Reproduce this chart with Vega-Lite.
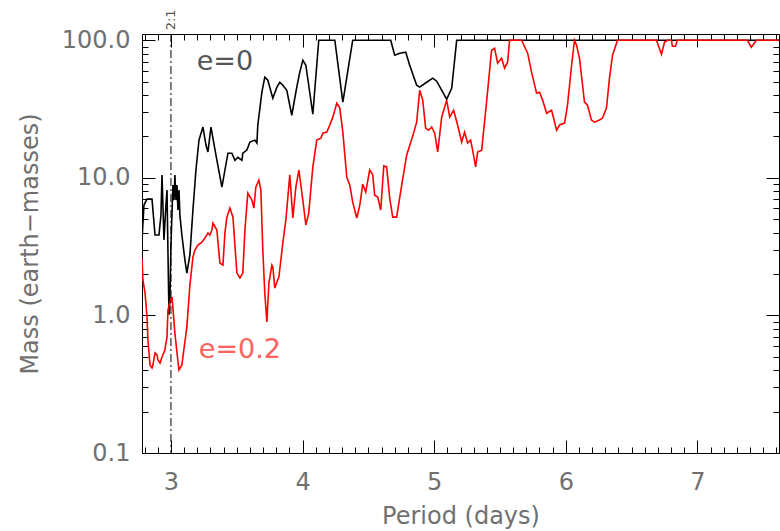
{
  "$schema": "https://vega.github.io/schema/vega-lite/v6.json",
  "width": 637,
  "height": 419,
  "autosize": {"type": "none"},
  "padding": {"left": 142, "top": 34, "right": 1, "bottom": 78},
  "background": "white",
  "config": {"view": {"stroke": null}, "font": "DejaVu Sans"},
  "datasets": {
    "e0": [
      {"P":2.780,"M":3.53},{"P":2.795,"M":6.34},{"P":2.818,"M":7.00},{"P":2.856,"M":7.00},{"P":2.879,"M":3.84},
      {"P":2.909,"M":3.84},{"P":2.924,"M":5.36},{"P":2.932,"M":10.5},{"P":2.947,"M":3.53},{"P":2.962,"M":6.34},
      {"P":2.970,"M":8.14},{"P":2.977,"M":2.98},{"P":2.985,"M":1.01},{"P":2.992,"M":1.29},{"P":3.000,"M":3.25},
      {"P":3.015,"M":8.85},{"P":3.023,"M":6.89},{"P":3.030,"M":10.5},{"P":3.038,"M":6.89},{"P":3.046,"M":8.85},
      {"P":3.053,"M":5.83},{"P":3.061,"M":8.14},{"P":3.068,"M":5.36},{"P":3.083,"M":3.84},{"P":3.106,"M":2.53},
      {"P":3.121,"M":2.03},{"P":3.144,"M":2.75},{"P":3.167,"M":5.83},{"P":3.190,"M":11.4},{"P":3.213,"M":18.8},
      {"P":3.243,"M":23.4},{"P":3.266,"M":17.3},{"P":3.281,"M":15.4},{"P":3.304,"M":23.4},{"P":3.342,"M":14.6},
      {"P":3.387,"M":8.55},{"P":3.433,"M":15.1},{"P":3.463,"M":15.1},{"P":3.486,"M":13.4},{"P":3.509,"M":14.1},
      {"P":3.539,"M":13.4},{"P":3.546,"M":15.1},{"P":3.577,"M":15.9},{"P":3.600,"M":18.2},{"P":3.638,"M":18.8},
      {"P":3.653,"M":17.9},{"P":3.660,"M":24.2},{"P":3.691,"M":41.9},{"P":3.713,"M":53.9},{"P":3.736,"M":51.2},
      {"P":3.774,"M":37.9},{"P":3.805,"M":45.6},{"P":3.827,"M":49.5},{"P":3.850,"M":47.1},{"P":3.880,"M":43.3},
      {"P":3.918,"M":28.5},{"P":3.956,"M":45.6},{"P":3.979,"M":58.6},{"P":4.002,"M":71.6},{"P":4.025,"M":65.8},
      {"P":4.078,"M":29.0},{"P":4.123,"M":100},{"P":4.245,"M":100},{"P":4.306,"M":35.5},{"P":4.381,"M":100},
      {"P":4.670,"M":100},{"P":4.700,"M":77.8},{"P":4.738,"M":80.5},{"P":4.784,"M":81.8},{"P":4.814,"M":65.8},
      {"P":4.867,"M":47.1},{"P":4.890,"M":45.6},{"P":4.943,"M":49.5},{"P":4.989,"M":53.0},{"P":5.019,"M":50.4},
      {"P":5.095,"M":37.3},{"P":5.133,"M":44.8},{"P":5.171,"M":100},{"P":7.622,"M":100}
    ],
    "e02": [
      {"P":2.780,"M":2.61},{"P":2.787,"M":1.81},{"P":2.803,"M":1.45},{"P":2.818,"M":0.973},{"P":2.825,"M":0.663},
      {"P":2.841,"M":0.436},{"P":2.856,"M":0.415},{"P":2.863,"M":0.436},{"P":2.879,"M":0.533},{"P":2.894,"M":0.516},
      {"P":2.901,"M":0.474},{"P":2.917,"M":0.451},{"P":2.932,"M":0.499},{"P":2.954,"M":0.561},{"P":2.970,"M":0.697},
      {"P":2.977,"M":1.09},{"P":2.992,"M":1.25},{"P":3.008,"M":1.36},{"P":3.015,"M":1.13},{"P":3.030,"M":0.745},
      {"P":3.046,"M":0.533},{"P":3.061,"M":0.401},{"P":3.083,"M":0.436},{"P":3.091,"M":0.499},{"P":3.121,"M":0.824},
      {"P":3.144,"M":1.66},{"P":3.167,"M":2.65},{"P":3.182,"M":2.98},{"P":3.205,"M":3.25},{"P":3.235,"M":3.41},
      {"P":3.258,"M":3.65},{"P":3.281,"M":3.97},{"P":3.296,"M":3.84},{"P":3.311,"M":4.17},{"P":3.319,"M":4.69},
      {"P":3.349,"M":4.17},{"P":3.372,"M":2.40},{"P":3.395,"M":2.32},{"P":3.410,"M":3.97},{"P":3.425,"M":5.18},
      {"P":3.448,"M":6.03},{"P":3.471,"M":5.18},{"P":3.501,"M":2.03},{"P":3.524,"M":1.87},{"P":3.546,"M":2.03},
      {"P":3.562,"M":4.17},{"P":3.584,"M":7.74},{"P":3.615,"M":6.89},{"P":3.630,"M":6.03},{"P":3.645,"M":8.55},
      {"P":3.668,"M":9.62},{"P":3.683,"M":8.14},{"P":3.698,"M":2.98},{"P":3.713,"M":1.45},{"P":3.729,"M":0.895},
      {"P":3.744,"M":1.72},{"P":3.767,"M":2.32},{"P":3.774,"M":2.25},{"P":3.789,"M":1.58},{"P":3.805,"M":1.75},
      {"P":3.820,"M":1.90},{"P":3.850,"M":3.36},{"P":3.873,"M":4.93},{"P":3.903,"M":10.5},{"P":3.926,"M":5.10},
      {"P":3.949,"M":8.55},{"P":3.972,"M":11.4},{"P":4.002,"M":6.89},{"P":4.025,"M":4.54},{"P":4.047,"M":5.54},
      {"P":4.078,"M":12.0},{"P":4.108,"M":18.8},{"P":4.139,"M":19.4},{"P":4.154,"M":21.1},{"P":4.184,"M":21.5},
      {"P":4.207,"M":24.2},{"P":4.230,"M":27.6},{"P":4.260,"M":34.9},{"P":4.283,"M":32.1},{"P":4.306,"M":21.5},
      {"P":4.336,"M":10.1},{"P":4.359,"M":8.85},{"P":4.381,"M":6.66},{"P":4.412,"M":5.10},{"P":4.435,"M":6.34},
      {"P":4.457,"M":8.99},{"P":4.480,"M":7.87},{"P":4.510,"M":11.4},{"P":4.533,"M":10.5},{"P":4.548,"M":7.48},
      {"P":4.571,"M":7.24},{"P":4.594,"M":5.83},{"P":4.617,"M":12.2},{"P":4.639,"M":12.0},{"P":4.662,"M":7.12},
      {"P":4.685,"M":5.18},{"P":4.715,"M":5.18},{"P":4.753,"M":8.85},{"P":4.791,"M":14.6},{"P":4.837,"M":20.1},
      {"P":4.867,"M":25.4},{"P":4.890,"M":43.3},{"P":4.913,"M":36.7},{"P":4.935,"M":23.0},{"P":4.958,"M":22.2},
      {"P":4.981,"M":23.4},{"P":5.004,"M":21.1},{"P":5.027,"M":15.4},{"P":5.057,"M":27.6},{"P":5.095,"M":36.7},
      {"P":5.118,"M":27.6},{"P":5.148,"M":31.0},{"P":5.178,"M":24.2},{"P":5.209,"M":18.2},{"P":5.231,"M":21.5},
      {"P":5.254,"M":17.9},{"P":5.277,"M":18.8},{"P":5.292,"M":15.9},{"P":5.315,"M":12.0},{"P":5.330,"M":15.4},
      {"P":5.361,"M":15.9},{"P":5.398,"M":35.5},{"P":5.436,"M":84.6},{"P":5.459,"M":87.5},{"P":5.482,"M":68.1},
      {"P":5.512,"M":74.0},{"P":5.535,"M":62.6},{"P":5.558,"M":69.2},{"P":5.573,"M":100},{"P":5.664,"M":100},
      {"P":5.710,"M":80.5},{"P":5.740,"M":58.6},{"P":5.778,"M":41.2},{"P":5.801,"M":41.9},{"P":5.824,"M":36.7},
      {"P":5.854,"M":29.5},{"P":5.892,"M":31.0},{"P":5.915,"M":25.4},{"P":5.930,"M":22.2},{"P":5.953,"M":24.2},
      {"P":5.991,"M":25.0},{"P":6.013,"M":33.7},{"P":6.044,"M":65.8},{"P":6.066,"M":100},{"P":6.082,"M":92.0},
      {"P":6.104,"M":74.0},{"P":6.142,"M":35.5},{"P":6.165,"M":33.7},{"P":6.195,"M":26.3},{"P":6.218,"M":25.4},
      {"P":6.256,"M":26.3},{"P":6.279,"M":27.2},{"P":6.309,"M":32.1},{"P":6.332,"M":53.0},{"P":6.355,"M":77.8},
      {"P":6.393,"M":100},{"P":6.689,"M":100},{"P":6.727,"M":79.1},{"P":6.750,"M":96.7},{"P":6.772,"M":100},
      {"P":6.803,"M":100},{"P":6.810,"M":90.4},{"P":6.833,"M":90.4},{"P":6.848,"M":100},{"P":7.380,"M":100},
      {"P":7.410,"M":88.9},{"P":7.448,"M":100},{"P":7.622,"M":100}
    ]
  },
  "resolve": {"axis": {"x": "independent", "y": "independent"}},
  "layer": [
    {
      "data": {"name": "e0"},
      "mark": {"type": "line", "color": "black", "strokeWidth": 1.6, "clip": true},
      "encoding": {
        "x": {
          "field": "P", "type": "quantitative",
          "scale": {"domain": [2.78, 7.62], "nice": false, "zero": false},
          "axis": {
            "orient": "bottom", "title": "Period (days)",
            "values": [2.8,2.9,3,3.1,3.2,3.3,3.4,3.5,3.6,3.7,3.8,3.9,4,4.1,4.2,4.3,4.4,4.5,4.6,4.7,4.8,4.9,5,5.1,5.2,5.3,5.4,5.5,5.6,5.7,5.8,5.9,6,6.1,6.2,6.3,6.4,6.5,6.6,6.7,6.8,6.9,7,7.1,7.2,7.3,7.4,7.5,7.6],
            "labelExpr": "abs(datum.value - round(datum.value)) < 0.001 ? format(datum.value, 'd') : ''",
            "tickSize": {"condition": {"test": "abs(datum.value - round(datum.value)) < 0.001", "value": -13}, "value": -6},
            "tickColor": "black", "domainColor": "black", "tickWidth": 1, "domainWidth": 1,
            "labelFontSize": 24, "labelColor": "#707070", "labelPadding": 30, "labelBaseline": "top", "labelAlign": "center",
            "labelOverlap": false, "labelFlush": false, "labelBound": false,
            "titleFontSize": 24, "titleFontWeight": "normal", "titleColor": "#707070", "titlePadding": 3,
            "grid": false
          }
        },
        "y": {
          "field": "M", "type": "quantitative",
          "scale": {"type": "log", "domain": [0.1, 111], "nice": false},
          "axis": {
            "orient": "left", "title": "Mass (earth−masses)",
            "values": [0.1,0.2,0.3,0.4,0.5,0.6,0.7,0.8,0.9,1,2,3,4,5,6,7,8,9,10,20,30,40,50,60,70,80,90,100],
            "labelExpr": "(datum.value == 0.1 || datum.value == 1 || datum.value == 10 || datum.value == 100) ? format(datum.value, '.1f') : ''",
            "tickSize": {"condition": {"test": "datum.value == 0.1 || datum.value == 1 || datum.value == 10 || datum.value == 100", "value": -13}, "value": -6},
            "tickColor": "black", "domainColor": "black", "tickWidth": 1, "domainWidth": 1,
            "labelFontSize": 24, "labelColor": "#707070", "labelPadding": 25, "labelAlign": "right", "labelBaseline": "middle",
            "labelOverlap": false, "labelFlush": false, "labelBound": false,
            "titleFontSize": 24, "titleFontWeight": "normal", "titleColor": "#707070", "titlePadding": 19,
            "grid": false
          }
        }
      }
    },
    {
      "data": {"name": "e02"},
      "mark": {"type": "line", "color": "#ff0000", "strokeWidth": 1.6, "clip": true},
      "encoding": {
        "x": {
          "field": "P", "type": "quantitative",
          "axis": {
            "orient": "top", "title": null, "labels": false,
            "values": [2.8,2.9,3,3.1,3.2,3.3,3.4,3.5,3.6,3.7,3.8,3.9,4,4.1,4.2,4.3,4.4,4.5,4.6,4.7,4.8,4.9,5,5.1,5.2,5.3,5.4,5.5,5.6,5.7,5.8,5.9,6,6.1,6.2,6.3,6.4,6.5,6.6,6.7,6.8,6.9,7,7.1,7.2,7.3,7.4,7.5,7.6],
            "tickSize": {"condition": {"test": "abs(datum.value - round(datum.value)) < 0.001", "value": -13}, "value": -6},
            "tickColor": "black", "domainColor": "black", "grid": false
          }
        },
        "y": {
          "field": "M", "type": "quantitative",
          "axis": {
            "orient": "right", "title": null, "labels": false,
            "values": [0.1,0.2,0.3,0.4,0.5,0.6,0.7,0.8,0.9,1,2,3,4,5,6,7,8,9,10,20,30,40,50,60,70,80,90,100],
            "tickSize": {"condition": {"test": "datum.value == 0.1 || datum.value == 1 || datum.value == 10 || datum.value == 100", "value": -13}, "value": -6},
            "tickColor": "black", "domainColor": "black", "grid": false
          }
        }
      }
    },
    {
      "data": {"values": [{"P": 3.0}]},
      "mark": {"type": "rule", "color": "black", "strokeWidth": 1, "strokeDash": [8, 3, 2, 3]},
      "encoding": {"x": {"field": "P", "type": "quantitative", "axis": null}}
    },
    {
      "data": {"values": [{"P": 3.41, "M": 69, "label": "e=0"}]},
      "mark": {"type": "text", "fontSize": 27, "color": "#555", "align": "center", "baseline": "middle"},
      "encoding": {
        "x": {"field": "P", "type": "quantitative", "axis": null},
        "y": {"field": "M", "type": "quantitative", "axis": null},
        "text": {"field": "label"}
      }
    },
    {
      "data": {"values": [{"P": 3.524, "M": 0.561, "label": "e=0.2"}]},
      "mark": {"type": "text", "fontSize": 27, "color": "#ff6060", "align": "center", "baseline": "middle"},
      "encoding": {
        "x": {"field": "P", "type": "quantitative", "axis": null},
        "y": {"field": "M", "type": "quantitative", "axis": null},
        "text": {"field": "label"}
      }
    },
    {
      "data": {"values": [{"P": 3.0, "M": 118, "label": "2:1"}]},
      "mark": {"type": "text", "fontSize": 13, "color": "#555", "angle": 270, "align": "left", "baseline": "middle"},
      "encoding": {
        "x": {"field": "P", "type": "quantitative", "axis": null},
        "y": {"field": "M", "type": "quantitative", "axis": null},
        "text": {"field": "label"}
      }
    }
  ]
}
